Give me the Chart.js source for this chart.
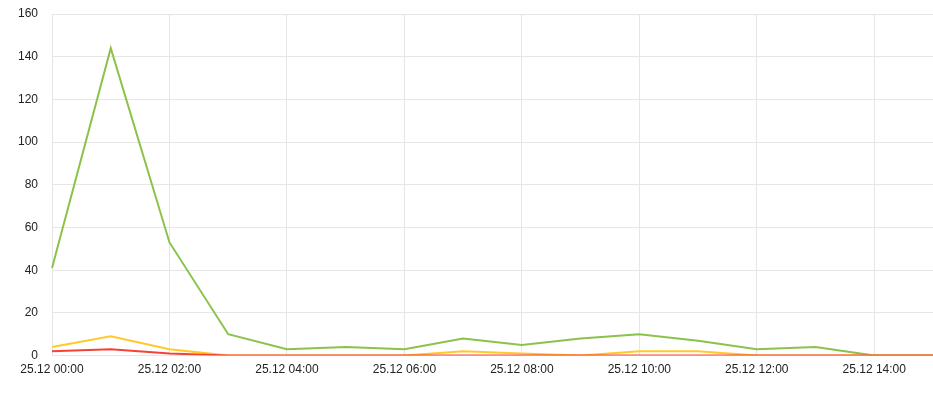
<!DOCTYPE html>
<html><head><meta charset="utf-8">
<script src="https://cdn.jsdelivr.net/npm/chart.js@4/dist/chart.umd.min.js"></script>
<style>html,body{margin:0;padding:0;background:#fff}#w{width:933px;height:401px}</style>
</head><body><div id="w"><canvas id="c"></canvas></div>
<script>
const labels = ["25.12 00:00","25.12 01:00","25.12 02:00","25.12 03:00","25.12 04:00","25.12 05:00","25.12 06:00","25.12 07:00","25.12 08:00","25.12 09:00","25.12 10:00","25.12 11:00","25.12 12:00","25.12 13:00","25.12 14:00","25.12 15:00"];
const greenValues = [41,144,53,10,3,4,3,8,5,8,10,7,3,4,0,0];
const yellowValues = [4,9,3,0,0,0,0,2,1,0,2,2,0,0,0,0];
const redValues = [2,3,1,0,0,0,0,0,0,0,0,0,0,0,0,0];
const yTicks = [0,20,40,60,80,100,120,140,160];

Chart.defaults.font.family = "Arial, 'Liberation Sans', sans-serif";
Chart.defaults.font.size = 12;
Chart.defaults.color = "#222";
new Chart(document.getElementById('c'), {
  type: 'line',
  data: {
    labels: labels,
    datasets: [
      {data: redValues, borderColor: '#f44336', borderWidth: 2, pointRadius: 0, tension: 0, fill: false},
      {data: yellowValues, borderColor: '#ffca28', borderWidth: 2, pointRadius: 0, tension: 0, fill: false},
      {data: greenValues, borderColor: '#8bc34a', borderWidth: 2, pointRadius: 0, tension: 0, fill: false}
    ]
  },
  options: {
    responsive: true, maintainAspectRatio: false, animation: false,
    layout: {padding: {top: 0, left: 4, right: 0, bottom: 17}},
    plugins: {legend: {display: false}, tooltip: {enabled: false}},
    scales: {
      x: {
        offset: false,
        grid: {color: '#e6e6e6', drawTicks: false},
        border: {display: false},
        ticks: {autoSkip: false, maxRotation: 0, padding: 7,
          callback: function(v, i){ return i % 2 === 0 && i < 15 ? labels[i] : null; }}
      },
      y: {
        min: 0, max: 160,
        afterBuildTicks: function(s){ s.ticks = yTicks.map(v => ({value: v})); },
        afterFit: function(s){ s.paddingTop = 14; },
        grid: {color: '#e6e6e6', drawTicks: false},
        border: {display: false},
        ticks: {padding: 14}
      }
    }
  }
});
</script></body></html>
